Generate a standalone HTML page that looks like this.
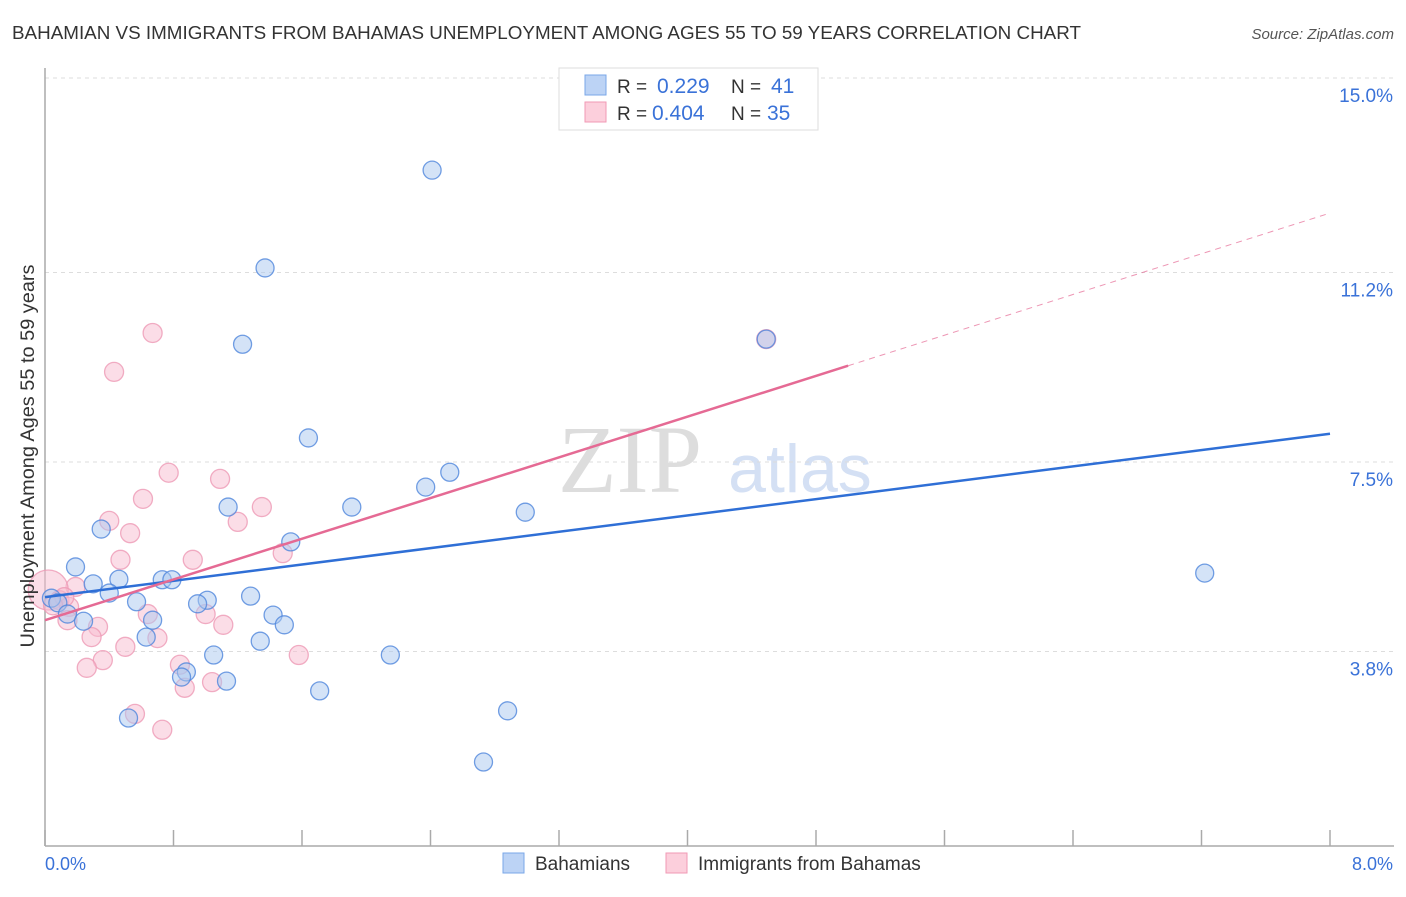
<!DOCTYPE html>
<html><head><meta charset="utf-8"><style>
body{margin:0;background:#fff;font-family:"Liberation Sans",sans-serif}
</style></head><body>
<svg id="c" width="1406" height="892" xmlns="http://www.w3.org/2000/svg">
<text x="12" y="39" font-size="18" fill="#333" textLength="1069" lengthAdjust="spacingAndGlyphs">BAHAMIAN VS IMMIGRANTS FROM BAHAMAS UNEMPLOYMENT AMONG AGES 55 TO 59 YEARS CORRELATION CHART</text>
<text x="1394" y="39" font-size="15" fill="#555" font-style="italic" text-anchor="end">Source: ZipAtlas.com</text>
<text x="630" y="492" font-size="96" fill="#ddd" font-family="Liberation Serif,serif" text-anchor="middle">ZIP</text>
<text x="800" y="492" font-size="68" fill="#d4e0f4" text-anchor="middle">atlas</text>
<g id="grid"></g><g id="axes"></g><g id="pts"></g><g id="trend"></g>
<text transform="translate(34,456) rotate(-90)" font-size="19" fill="#333" text-anchor="middle" textLength="383" lengthAdjust="spacingAndGlyphs">Unemployment Among Ages 55 to 59 years</text>
<text x="45" y="870" font-size="18" fill="#3a72d8">0.0%</text>
<text x="1393" y="870" font-size="18" fill="#3a72d8" text-anchor="end">8.0%</text>
<g>
<rect x="559" y="68" width="259" height="62" fill="#fff" stroke="#ddd"/>
<rect x="585" y="75" width="21" height="20" fill="#bcd3f5" stroke="#7aa7e8"/>
<rect x="585" y="102" width="21" height="20" fill="#fccfdc" stroke="#f19ab5"/>
<text x="617" y="93" font-size="19" fill="#333">R =</text><text x="657" y="93" font-size="21" fill="#3a72d8">0.229</text>
<text x="731" y="93" font-size="19" fill="#333">N =</text><text x="771" y="93" font-size="21" fill="#3a72d8">41</text>
<text x="617" y="120" font-size="19" fill="#333">R =</text><text x="652" y="120" font-size="21" fill="#3a72d8">0.404</text>
<text x="731" y="120" font-size="19" fill="#333">N =</text><text x="767" y="120" font-size="21" fill="#3a72d8">35</text>
</g>
<g>
<rect x="503" y="853" width="21" height="20" fill="#bcd3f5" stroke="#7aa7e8"/>
<text x="535" y="870" font-size="19" fill="#333">Bahamians</text>
<rect x="666" y="853" width="21" height="20" fill="#fccfdc" stroke="#f19ab5"/>
<text x="698" y="870" font-size="19" fill="#333">Immigrants from Bahamas</text>
</g>
</svg>
<script>
const yTicks=[3.8,7.5,11.2,15.0];
const yTickLabels=["3.8%","7.5%","11.2%","15.0%"];
const blueX=[2.41,1.37,1.23,4.49,1.64,2.52,2.37,1.91,1.14,2.99,0.35,1.53,0.19,7.22,0.30,0.46,0.73,0.79,0.40,1.28,0.57,1.01,0.95,0.04,0.08,0.14,0.24,0.67,1.42,1.49,0.63,1.34,1.05,2.15,0.88,0.85,1.13,1.71,0.52,2.88,2.73];
const blueY=[13.20,11.29,9.80,9.90,7.97,7.30,7.01,6.62,6.62,6.52,6.19,5.94,5.45,5.33,5.12,5.21,5.20,5.20,4.94,4.88,4.77,4.80,4.73,4.84,4.75,4.53,4.39,4.41,4.51,4.32,4.08,4.00,3.73,3.73,3.40,3.30,3.22,3.03,2.50,2.64,1.64];
const pinkX=[0.67,0.43,4.49,0.77,1.09,0.61,1.35,0.40,1.20,0.53,0.47,0.92,1.48,0.19,0.02,0.09,0.15,0.14,0.64,1.00,0.33,1.11,0.29,0.70,0.50,1.58,0.36,0.26,0.84,1.04,0.87,0.56,0.73,0.12,0.05];
const pinkY=[10.02,9.26,9.90,7.29,7.17,6.78,6.62,6.35,6.33,6.11,5.59,5.59,5.72,5.06,5.0,4.80,4.67,4.41,4.53,4.53,4.28,4.32,4.08,4.06,3.89,3.73,3.63,3.48,3.54,3.20,3.09,2.58,2.27,4.86,4.70];
const blueTrend=[4.86,0.399];
const pinkTrend=[4.41,0.994];
const pinkSolidEnd=5.0;
const X=v=>45+v/8*1285, Y=v=>846-v*51.2;
const NS="http://www.w3.org/2000/svg";
function mk(p,t,a){const e=document.createElementNS(NS,t);for(const k in a)e.setAttribute(k,a[k]);p.appendChild(e);return e;}
const g=document.getElementById('grid'),ax=document.getElementById('axes'),pts=document.getElementById('pts'),tr=document.getElementById('trend');
yTicks.forEach((t,i)=>{const l=mk(g,'line',{x1:45,x2:1394,y1:Y(t),y2:Y(t),stroke:'#ddd','stroke-dasharray':'4,4'});


const tx=mk(g,'text',{x:1393,y:Y(t)+24,'font-size':19,fill:'#3a72d8','text-anchor':'end'});tx.textContent=yTickLabels[i];

});
const tl=mk(g,'line',{x1:45,x2:1394,y1:78,y2:78,stroke:'#ddd','stroke-dasharray':'4,4'});


mk(ax,'line',{x1:45,x2:45,y1:68,y2:846,stroke:'#aaa','stroke-width':1.5});
mk(ax,'line',{x1:45,x2:1394,y1:846,y2:846,stroke:'#aaa','stroke-width':1.5});
for(let i=0;i<=10;i++){const t=mk(ax,'line',{x1:X(i*0.8),x2:X(i*0.8),y1:830,y2:846,stroke:'#aaa','stroke-width':1.5});

}
function dot(x,y,r,f,s,n){const c=mk(pts,'circle',{cx:X(x),cy:Y(y),r:r,fill:f,'fill-opacity':0.5,stroke:s,'stroke-width':1.3,'stroke-opacity':0.8});

}
pinkX.forEach((x,i)=>dot(x,pinkY[i],i==14?20:9.5,'#f8bcd0','#ee9ab5','immigrant-point'));
blueX.forEach((x,i)=>dot(x,blueY[i],9,'#aac8f0','#4f86dc','bahamian-point'));
const bl=mk(tr,'line',{x1:X(0),y1:Y(blueTrend[0]),x2:X(8),y2:Y(blueTrend[0]+8*blueTrend[1]),stroke:'#2f6fd6','stroke-width':2.5});


const pl=mk(tr,'line',{x1:X(0),y1:Y(pinkTrend[0]),x2:X(pinkSolidEnd),y2:Y(pinkTrend[0]+pinkSolidEnd*pinkTrend[1]),stroke:'#e56a94','stroke-width':2.5});


const pd=mk(tr,'line',{x1:X(pinkSolidEnd),y1:Y(pinkTrend[0]+pinkSolidEnd*pinkTrend[1]),x2:X(8),y2:Y(pinkTrend[0]+8*pinkTrend[1]),stroke:'#e56a94','stroke-width':1,'stroke-dasharray':'6,5','stroke-opacity':0.7});


</script>
</body></html>
